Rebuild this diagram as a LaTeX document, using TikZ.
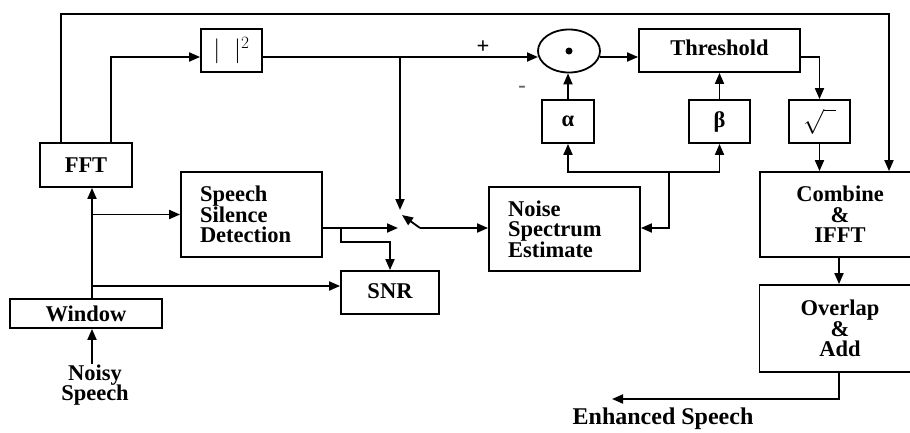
\documentclass[tikz,border=0pt]{standalone}
\usepackage{fontspec}
\setmainfont{Liberation Serif}
\usetikzlibrary{arrows.meta,shapes.geometric}
\begin{document}
\begin{tikzpicture}[x=1pt,y=-1pt,
  every node/.style={font=\fontsize{22.5}{20.5}\selectfont\bfseries},
  box/.style={draw,line width=1.8pt,inner sep=0pt},
  lbox/.style={box,align=left,inner xsep=19pt},
  cbox/.style={box,align=center},
  conn/.style={line width=1.8pt},
  arr/.style={conn,-{Triangle[length=11pt,width=9pt]}},
  lbl/.style={inner sep=0pt}]
\path[use as bounding box] (0,0) rectangle (910,432);
\clip (0,0) rectangle (910,432);
% blocks
\node[box,minimum width=92pt,minimum height=44pt] (fft) at (86,165) {FFT};
\node[box,minimum width=61pt,minimum height=43pt] (sq) at (231.5,50.5) {\fontsize{26}{26}\selectfont\raisebox{-3pt}{$|\;\;|^{2}$}};
\node[lbox,text width=103pt,minimum height=85pt] (ssd) at (251.5,214.5) {Speech\\Silence\\Detection};
\node[lbox,text width=113pt,minimum height=84pt] (nse) at (564.5,229) {Noise\\Spectrum\\Estimate};
\node[box,minimum width=98pt,minimum height=43pt] (snr) at (390,292.5) {\raisebox{3pt}{SNR}};
\node[box,minimum width=152pt,minimum height=29pt] (win) at (86,313.5) {Window};
\node[draw,line width=1.8pt,ellipse,minimum width=62pt,minimum height=43pt,inner sep=0pt] (circ) at (569,51) {};
\fill (circ.center) circle (3.5pt);
\node[box,minimum width=161pt,minimum height=43pt] (thr) at (719.5,50.5) {\raisebox{5pt}{Threshold}};
\node[box,minimum width=52pt,minimum height=43pt] (alpha) at (568,121.5) {α};
\node[box,minimum width=61pt,minimum height=43pt] (beta) at (719.5,121.5) {β};
\node[box,minimum width=61pt,minimum height=43pt] (sqrt) at (819.5,121.5) {\fontsize{26}{26}\selectfont$\sqrt{\phantom{0}}$};
\node[cbox,minimum width=160pt,minimum height=85pt] (comb) at (840,214.5) {Combine\\\&\\IFFT};
\node[cbox,minimum width=161pt,minimum height=87pt] (ovl) at (840,328.5) {Overlap\\\&\\Add};
% labels
\node[lbl,align=center] (noisy) at (95,385) {Noisy\\Speech};
\node[lbl,font=\fontsize{24}{24}\selectfont\bfseries] (enh) at (663,419) {Enhanced Speech};
\node[lbl] (plus) at (483,47) {+};
\node[lbl,text=black!60] (minus) at (522,89) {-};
% helper coordinates
\coordinate (t) at (92,0);
\coordinate (m) at (0,57);
\coordinate (tl) at (61,14);
\coordinate (tr) at (889,14);
\coordinate (b1) at (400,57);
\coordinate (swtip) at (400,210);
\coordinate (swin) at (398,228);
\coordinate (swa) at (420,228);
\coordinate (swb) at (402,215);
\coordinate (sb) at (341,228);
\coordinate (sc) at (390,242);
\coordinate (fb) at (669,172);
\coordinate (eo) at (839,399);
\coordinate (ee) at (612,399);
% connectors
\draw[arr] (t |- noisy.north) -- (t |- win.south);
\draw[arr] (t |- win.north) -- (t |- fft.south);
\draw[arr] (t |- ssd.west) -- (ssd.west);
\draw[arr] (t |- 0,286) -- (snr.west |- 0,286);
\draw[arr] (tl |- fft.north) -- (tl) -- (tr) -- (tr |- comb.north);
\draw[arr] (111,0 |- fft.north) |- (sq.west |- m);
\draw[arr] (sq.east |- m) -- (538,57);
\draw[arr] (b1) -- (swtip);
\draw[arr] (ssd.east |- swin) -- (swin);
\draw[arr] (swa) -- (swb);
\draw[arr] (swa) -- (nse.west |- swa);
\draw[arr] (sb) |- (sc) -- (snr.north -| sc);
\draw[arr] (600,57) -- (thr.west |- m);
\draw[arr] (alpha.north) -- (circ.south -| alpha.north);
\draw[arr] (beta.north) -- (thr.south -| beta.north);
\draw[arr] (thr.east |- m) -| (sqrt.north);
\draw[arr] (sqrt.south) -- (comb.north -| sqrt.south);
\draw[arr] (fb) |- (nse.east |- swa);
\draw[arr] (fb) -| (alpha.south);
\draw[arr] (fb) -| (beta.south);
\draw[arr] (comb.south -| eo) -- (ovl.north -| eo);
\draw[arr] (ovl.south -| eo) -- (eo) -- (ee);
\end{tikzpicture}
\end{document}
